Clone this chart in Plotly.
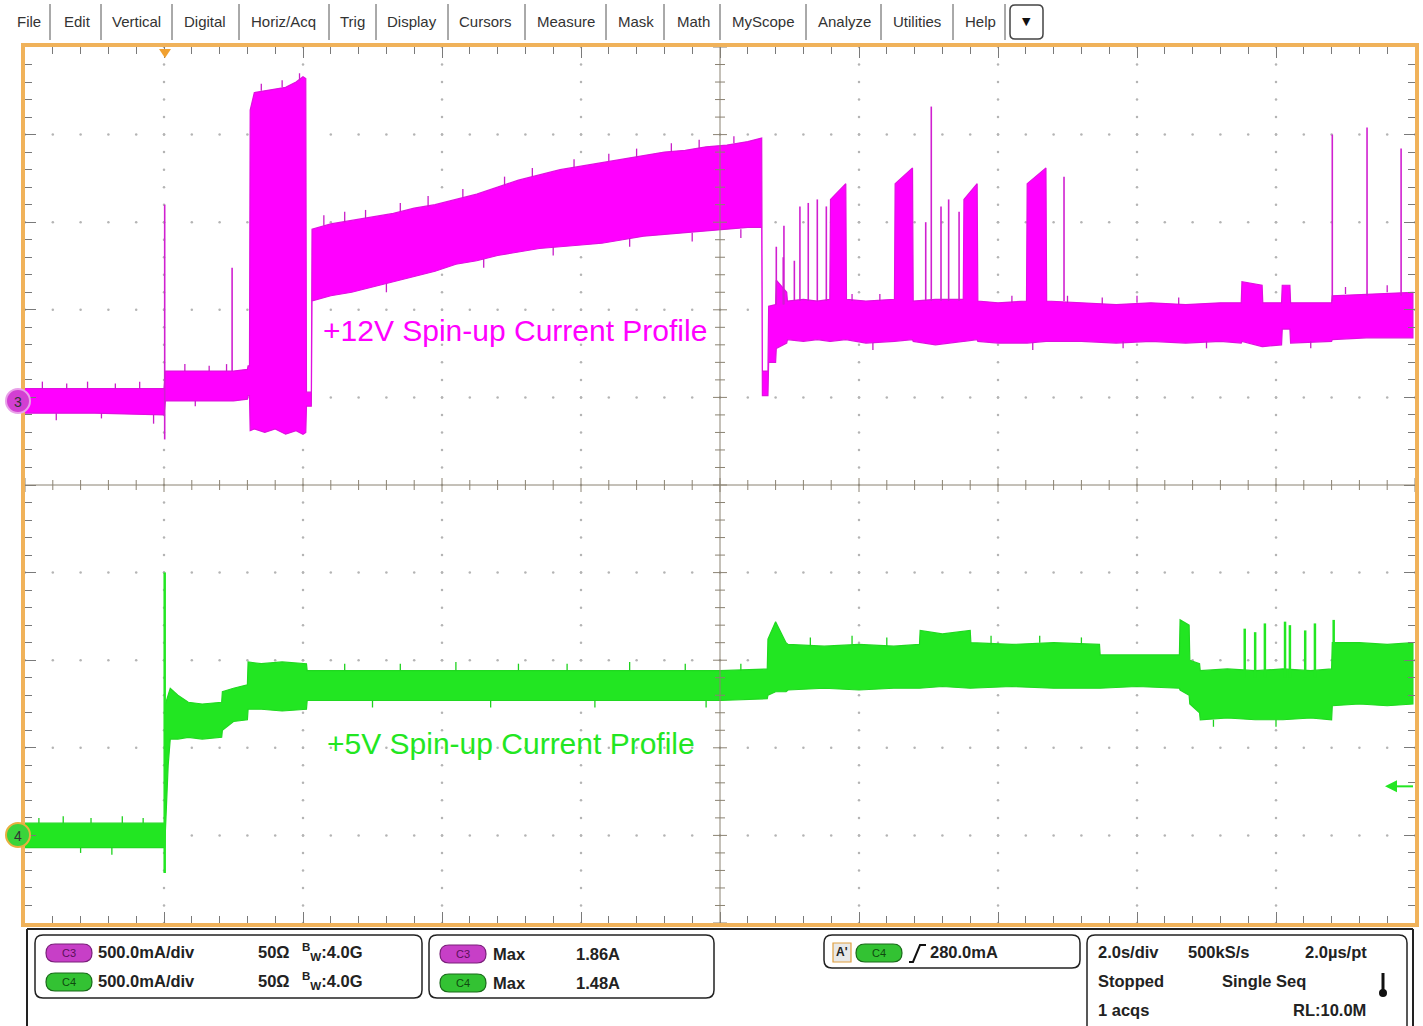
import plotly.graph_objects as go

# ---------------- DATA (time in s, current in A) ----------------
# Channel 3 (+12V) envelope: time, upper, lower
c3_t = [-2.00, -1.00, 0.00,
        0.02, 0.50, 1.00, 1.20, 1.21, 1.23,
        1.24, 1.30, 1.45, 1.60, 1.75, 1.90, 2.00, 2.04,
        2.05, 2.12,
        2.13, 2.40, 2.70, 3.00, 3.30, 3.60, 3.90, 4.20, 4.50, 4.80, 5.10, 5.40,
        5.70, 6.00, 6.30, 6.60, 6.90, 7.20, 7.50, 7.80, 8.10, 8.40, 8.60,
        8.61, 8.69, 8.70, 8.80, 8.81, 8.96, 8.97,
        9.20, 9.40, 9.58, 9.59, 9.81, 9.82, 10.10, 10.51, 10.52, 10.77, 10.78,
        11.10, 11.50, 11.51, 11.70, 11.71, 12.00, 12.41, 12.42, 12.69, 12.70,
        13.20, 13.70, 14.20, 14.70, 15.20, 15.50, 15.51, 15.80, 15.81, 16.08,
        16.09, 16.20, 16.21, 16.80, 16.81, 17.30, 17.97]
c3_hi = [0.07, 0.07, 0.07,
         0.17, 0.17, 0.17, 0.18, 0.20, 0.20,
         1.66, 1.76, 1.77, 1.78, 1.79, 1.82, 1.85, 1.84,
         0.05, 0.05,
         0.98, 1.01, 1.03, 1.05, 1.07, 1.10, 1.12, 1.15, 1.18, 1.22, 1.26, 1.29,
         1.32, 1.34, 1.36, 1.38, 1.40, 1.42, 1.43, 1.45, 1.46, 1.48, 1.50,
         0.17, 0.17, 0.54, 0.55, 0.69, 0.62, 0.57,
         0.58, 0.57, 0.58, 1.15, 1.24, 0.58, 0.57, 0.58, 1.24, 1.33, 0.57,
         0.58, 0.58, 1.15, 1.24, 0.57, 0.56, 0.57, 1.24, 1.33, 0.57,
         0.56, 0.55, 0.56, 0.55, 0.56, 0.56, 0.68, 0.66, 0.56, 0.56,
         0.66, 0.66, 0.56, 0.56, 0.60, 0.61, 0.62]
c3_lo = [-0.07, -0.07, -0.08,
         0.00, 0.00, 0.00, 0.01, 0.03, 0.03,
         -0.17, -0.16, -0.18, -0.16, -0.19, -0.17, -0.19, -0.18,
         -0.03, -0.03,
         0.57, 0.60, 0.62, 0.65, 0.68, 0.71, 0.74, 0.78, 0.80, 0.83, 0.85, 0.87,
         0.88, 0.89, 0.90, 0.92, 0.94, 0.95, 0.96, 0.97, 0.98, 0.99, 0.99,
         0.03, 0.03, 0.22, 0.22, 0.30, 0.33, 0.35,
         0.34, 0.35, 0.34, 0.34, 0.35, 0.35, 0.33, 0.34, 0.34, 0.35, 0.34,
         0.32, 0.34, 0.34, 0.35, 0.34, 0.33, 0.33, 0.33, 0.34, 0.34,
         0.34, 0.33, 0.34, 0.33, 0.34, 0.33, 0.34, 0.31, 0.31, 0.32,
         0.41, 0.41, 0.33, 0.34, 0.35, 0.36, 0.36]
c3_spike_t = [0.01, 0.98, 8.81, 8.91, 8.92, 9.07, 9.15, 9.27, 9.40, 9.53,
              10.96, 11.04, 11.18, 11.29, 11.44, 12.95, 16.81, 17.31, 17.80]
c3_spike_lo = [-0.22, 0.17, 0.55, 0.55, 0.55, 0.57, 0.57, 0.57, 0.57, 0.57,
               0.57, 0.57, 0.57, 0.57, 0.57, 0.57, 0.57, 0.60, 0.60]
c3_spike_hi = [1.12, 0.76, 0.88, 0.82, 1.00, 0.80, 1.11, 1.13, 1.15, 1.11,
               1.02, 1.68, 1.11, 1.15, 1.08, 1.28, 1.52, 1.56, 1.44]
# small noise teeth on the C3 envelope edges
c3_tooth_t = [-1.75, -1.40, -1.10, -0.70, -0.35, -1.55, -0.90, -0.15,
              0.30, 0.65, 0.90, 0.45,
              1.40, 1.70, 1.95,
              2.30, 2.60, 2.90, 3.40, 3.80, 4.30, 4.90, 5.30, 5.90, 6.40, 6.80, 7.30, 7.70, 8.20,
              3.20, 4.60, 5.60, 6.70, 7.60, 8.30,
              9.90, 10.30, 12.20, 13.00, 13.50, 14.00, 14.60, 17.00, 17.60,
              10.20, 12.50, 13.80, 15.00, 16.50]
c3_tooth_lo = [0.07, 0.07, 0.07, 0.07, 0.07, -0.07, -0.07, -0.08,
               0.17, 0.17, 0.17, 0.00,
               1.77, 1.79, 1.83,
               1.00, 1.02, 1.04, 1.08, 1.11, 1.16, 1.23, 1.28, 1.33, 1.37, 1.39, 1.42, 1.44, 1.47,
               0.67, 0.81, 0.88, 0.93, 0.96, 0.98,
               0.57, 0.57, 0.56, 0.56, 0.55, 0.56, 0.55, 0.61, 0.62,
               0.33, 0.33, 0.34, 0.34, 0.34]
c3_tooth_hi = [0.11, 0.10, 0.11, 0.10, 0.11, -0.11, -0.10, -0.13,
               0.21, 0.20, 0.21, -0.03,
               1.81, 1.83, 1.87,
               1.06, 1.08, 1.09, 1.13, 1.17, 1.21, 1.28, 1.33, 1.38, 1.41, 1.44, 1.47, 1.49, 1.51,
               0.62, 0.76, 0.83, 0.88, 0.91, 0.93,
               0.61, 0.61, 0.60, 0.60, 0.59, 0.60, 0.59, 0.65, 0.66,
               0.29, 0.29, 0.30, 0.30, 0.30]

# Channel 4 (+5V) envelope
c4_t = [-2.00, -1.00, 0.00, 0.01,
        0.02, 0.06, 0.09, 0.20, 0.35, 0.55, 0.83, 0.84, 1.00, 1.20,
        1.21, 1.40, 1.70, 2.05,
        2.06, 3.00, 4.00, 5.00, 6.00, 7.00, 8.00, 8.68,
        8.69, 8.80, 8.95, 8.98, 9.50, 10.00, 10.50, 10.87, 10.88, 11.20, 11.60, 11.61,
        12.20, 12.80, 13.46, 13.47, 14.00, 14.61, 14.62, 14.75, 14.76, 14.90,
        14.91, 15.30, 15.70, 16.10, 16.50, 16.80, 16.81, 17.20, 17.60, 17.97]
c4_hi = [0.07, 0.07, 0.07, 0.07,
         0.75, 0.80, 0.84, 0.80, 0.76, 0.75, 0.76, 0.82, 0.84, 0.86,
         0.99, 0.98, 0.99, 0.98,
         0.94, 0.94, 0.94, 0.94, 0.94, 0.94, 0.94, 0.95,
         1.12, 1.22, 1.10, 1.09, 1.08, 1.09, 1.08, 1.09, 1.17, 1.15, 1.17, 1.10,
         1.09, 1.10, 1.09, 1.03, 1.03, 1.03, 1.23, 1.20, 1.00, 0.98,
         0.94, 0.95, 0.94, 0.95, 0.94, 0.95, 1.10, 1.10, 1.09, 1.10]
c4_lo = [-0.07, -0.07, -0.07, -0.07,
         -0.05, 0.40, 0.55, 0.55, 0.56, 0.55, 0.56, 0.60, 0.65, 0.66,
         0.72, 0.72, 0.71, 0.72,
         0.77, 0.77, 0.77, 0.77, 0.77, 0.77, 0.77, 0.78,
         0.80, 0.82, 0.82, 0.83, 0.84, 0.83, 0.84, 0.84, 0.84, 0.85, 0.84, 0.84,
         0.85, 0.84, 0.84, 0.84, 0.85, 0.84, 0.83, 0.80, 0.75, 0.70,
         0.66, 0.67, 0.66, 0.66, 0.67, 0.66, 0.74, 0.75, 0.74, 0.75]
c4_spike_t = [0.01, 15.55, 15.70, 15.84, 16.13, 16.20, 16.42, 16.56, 16.83]
c4_spike_lo = [-0.215, 0.90, 0.90, 0.90, 0.90, 0.90, 0.90, 0.90, 1.00]
c4_spike_hi = [1.50, 1.18, 1.16, 1.21, 1.22, 1.20, 1.17, 1.21, 1.23]
c4_tooth_t = [-1.80, -1.45, -1.05, -0.60, -0.30, -1.20, -0.75,
              2.60, 3.40, 4.20, 5.10, 5.80, 6.70, 7.50, 8.30,
              9.30, 9.90, 10.40, 11.90, 12.60, 13.20,
              3.00, 4.70, 6.20, 7.80, 15.10, 16.00]
c4_tooth_lo = [0.07, 0.07, 0.07, 0.07, 0.07, -0.07, -0.07,
               0.94, 0.94, 0.94, 0.94, 0.94, 0.94, 0.94, 0.94,
               1.08, 1.09, 1.08, 1.09, 1.10, 1.09,
               0.77, 0.77, 0.77, 0.77, 0.66, 0.66]
c4_tooth_hi = [0.10, 0.11, 0.10, 0.11, 0.10, -0.10, -0.11,
               0.98, 0.98, 0.99, 0.98, 0.98, 0.99, 0.98, 0.98,
               1.13, 1.14, 1.13, 1.14, 1.14, 1.13,
               0.73, 0.73, 0.73, 0.73, 0.62, 0.62]

# Scope settings
VSCALE = 0.5          # A/div for both channels
C3_POS = 5.96         # ground position, divisions
C4_POS = 1.0
T_MIN, T_MAX = -2.0, 18.0   # 2.0 s/div, 10 divisions
TRIG_LEVEL = 0.28     # A on C4

# ---------------- LAYOUT HELPERS ----------------
W, H = 1423, 1026
PX0, PX1, PY0, PY1 = 25, 1415, 47, 923
MAG = '#FF00FF'
GRN = '#22E622'
ORANGE = '#F0B25A'
FONT = 'Liberation Sans, Arial, sans-serif'


def X(px):
    return px / W


def Y(py):
    return 1 - py / H


def rrect(x0, y0, x1, y1, r):
    return (f"M {X(x0 + r)},{Y(y0)} L {X(x1 - r)},{Y(y0)} Q {X(x1)},{Y(y0)} {X(x1)},{Y(y0 + r)} "
            f"L {X(x1)},{Y(y1 - r)} Q {X(x1)},{Y(y1)} {X(x1 - r)},{Y(y1)} "
            f"L {X(x0 + r)},{Y(y1)} Q {X(x0)},{Y(y1)} {X(x0)},{Y(y1 - r)} "
            f"L {X(x0)},{Y(y0 + r)} Q {X(x0)},{Y(y0)} {X(x0 + r)},{Y(y0)} Z")


fig = go.Figure()

# grid dots
gx, gy = [], []
for k in range(1, 10):
    if k == 5:
        continue
    for m in range(51):
        gx.append(T_MIN + 2 * k)
        gy.append(m * 0.2)
        gx.append(T_MIN + m * 0.4)
        gy.append(k)
fig.add_trace(go.Scatter(x=gx, y=gy, mode='markers', hoverinfo='skip',
                         marker=dict(size=2.5, color='#b4b4b4', line=dict(width=0))))


def band(t, hi, lo, pos, color, edge):
    xs = list(t) + list(reversed(t))
    ys = [pos + v / VSCALE for v in hi] + [pos + v / VSCALE for v in reversed(lo)]
    return go.Scatter(x=xs, y=ys, fill='toself', fillcolor=color, mode='lines',
                      line=dict(color=edge, width=1.2), hoverinfo='skip')


def spikes(t, lo, hi, pos, color, width):
    xs, ys = [], []
    for a, b, c in zip(t, lo, hi):
        xs += [a, a, None]
        ys += [pos + b / VSCALE, pos + c / VSCALE, None]
    return go.Scatter(x=xs, y=ys, mode='lines', line=dict(color=color, width=width),
                      hoverinfo='skip')


fig.add_trace(band(c3_t, c3_hi, c3_lo, C3_POS, MAG, '#E010E0'))
fig.add_trace(spikes(c3_tooth_t, c3_tooth_lo, c3_tooth_hi, C3_POS, '#C81EC8', 1.3))
fig.add_trace(spikes(c3_spike_t, c3_spike_lo, c3_spike_hi, C3_POS, '#D020D0', 1.6))
fig.add_trace(band(c4_t, c4_hi, c4_lo, C4_POS, GRN, '#20D820'))
fig.add_trace(spikes(c4_tooth_t, c4_tooth_lo, c4_tooth_hi, C4_POS, '#1ED21E', 1.3))
fig.add_trace(spikes(c4_spike_t, c4_spike_lo, c4_spike_hi, C4_POS, GRN, 2.5))

shapes = []
annos = []


def label(px, py, s, size=14, color='#333', xa='center', family=FONT):
    annos.append(dict(x=X(px), y=Y(py), xref='paper', yref='paper', xanchor=xa, yanchor='middle',
                      showarrow=False, text=s, font=dict(family=family, size=size, color=color)))


TC = T_MIN + 10.0  # center time
# crosshair
shapes.append(dict(type='line', xref='x', yref='y', x0=TC, x1=TC, y0=0, y1=10,
                   line=dict(color='#8a8272', width=1), layer='above'))
shapes.append(dict(type='line', xref='x', yref='y', x0=T_MIN, x1=T_MAX, y0=5, y1=5,
                   line=dict(color='#8a8272', width=1), layer='above'))
for m in range(51):
    L = 5 if m % 5 else 7
    shapes.append(dict(type='line', xref='x', yref='y', xsizemode='pixel', xanchor=TC,
                       x0=-L, x1=L, y0=m * 0.2, y1=m * 0.2,
                       line=dict(color='#8a8272', width=1), layer='above'))
    shapes.append(dict(type='line', xref='x', yref='y', ysizemode='pixel', yanchor=5,
                       y0=-L, y1=L, x0=T_MIN + m * 0.4, x1=T_MIN + m * 0.4,
                       line=dict(color='#8a8272', width=1), layer='above'))

# text labels on traces
label(515, 330, '+12V Spin-up Current Profile', size=30, color=MAG)
label(511, 743, '+5V Spin-up Current Profile', size=30, color=GRN)

# channel ground markers
for py, lab, fill, ring in [(401, '3', '#D23FD2', '#E9A0E9'),
                            (835, '4', '#3BD43B', '#E8B040')]:
    shapes.append(dict(type='circle', xref='paper', yref='paper', xsizemode='pixel', ysizemode='pixel',
                       xanchor=X(18), yanchor=Y(py), x0=-12, x1=12, y0=-12, y1=12,
                       fillcolor=fill, line=dict(color=ring, width=2), layer='above'))
    label(18, py + 1, lab, size=14, color='#333')

# trigger position marker (top) and trigger level arrow (right)
shapes.append(dict(type='path', xref='paper', yref='paper',
                   path=f"M {X(159)},{Y(49)} L {X(171)},{Y(49)} L {X(165)},{Y(58)} Z",
                   fillcolor='#F0A030', line=dict(width=0), layer='above'))
trig_py = PY1 - (C4_POS + TRIG_LEVEL / VSCALE) * (PY1 - PY0) / 10.0
shapes.append(dict(type='line', xref='paper', yref='paper', x0=X(1394), x1=X(1413),
                   y0=Y(trig_py), y1=Y(trig_py), line=dict(color=GRN, width=2), layer='above'))
shapes.append(dict(type='path', xref='paper', yref='paper',
                   path=f"M {X(1385)},{Y(trig_py)} L {X(1397)},{Y(trig_py - 6)} L {X(1397)},{Y(trig_py + 6)} Z",
                   fillcolor=GRN, line=dict(width=0), layer='above'))

# menu bar
menu = [(15, 'File'), (62, 'Edit'), (110, 'Vertical'), (182, 'Digital'), (249, 'Horiz/Acq'),
        (338, 'Trig'), (385, 'Display'), (457, 'Cursors'), (535, 'Measure'), (616, 'Mask'),
        (675, 'Math'), (730, 'MyScope'), (816, 'Analyze'), (891, 'Utilities'), (963, 'Help')]
for px, t in menu:
    label(px, 21, t, size=15, color='#333', xa='left')
for px in [50, 101, 172, 239, 329, 376, 448, 525, 606, 664, 720, 806, 881, 953, 1005]:
    shapes.append(dict(type='line', xref='paper', yref='paper', x0=X(px), x1=X(px), y0=Y(4), y1=Y(40),
                       line=dict(color='#555', width=1)))
shapes.append(dict(type='path', xref='paper', yref='paper', path=rrect(1010, 5, 1043, 39, 5),
                   line=dict(color='#444', width=1.5), fillcolor='white'))
label(1026.5, 22, '▼', size=11, color='#111', family='DejaVu Sans')

# bottom status area
shapes.append(dict(type='line', xref='paper', yref='paper', x0=X(27), x1=X(1413), y0=Y(929), y1=Y(929),
                   line=dict(color='#222', width=2)))
for px in [27, 1413]:
    shapes.append(dict(type='line', xref='paper', yref='paper', x0=X(px), x1=X(px), y0=Y(929), y1=Y(1026),
                       line=dict(color='#222', width=2)))
for x0, y0, x1, y1 in [(35, 935, 422, 998), (429, 935, 714, 998), (824, 935, 1080, 968),
                       (1087, 935, 1407, 1060)]:
    shapes.append(dict(type='path', xref='paper', yref='paper', path=rrect(x0, y0, x1, y1, 8),
                       line=dict(color='#222', width=1.5), fillcolor='white'))


def pill(x0, yc, lab, fill, edge, tc):
    shapes.append(dict(type='path', xref='paper', yref='paper', path=rrect(x0, yc - 9, x0 + 46, yc + 9, 9),
                       line=dict(color=edge, width=1.2), fillcolor=fill))
    label(x0 + 23, yc, lab, size=11, color=tc)


def txt(px, py, s, size=16.5):
    label(px - 2, py, f'<b>{s}</b>', size=size, color='#222', xa='left')


pill(46, 953, 'C3', '#C73FC7', '#7a207a', '#5a105a')
pill(46, 982, 'C4', '#33C233', '#1a6a1a', '#0f4a0f')
txt(98, 952, '500.0mA/div')
txt(98, 981, '500.0mA/div')
for py in [952, 981]:
    txt(258, py, '50Ω')
    txt(302, py, '<sup>B</sup><sub>W</sub>:4.0G')
pill(440, 954, 'C3', '#C73FC7', '#7a207a', '#5a105a')
pill(440, 983, 'C4', '#33C233', '#1a6a1a', '#0f4a0f')
txt(493, 954, 'Max')
txt(493, 983, 'Max')
txt(576, 954, '1.86A')
txt(576, 983, '1.48A')
shapes.append(dict(type='rect', xref='paper', yref='paper', x0=X(833), x1=X(851), y0=Y(943), y1=Y(962),
                   line=dict(color='#E0A040', width=1.2), fillcolor='#E8E8E8'))
label(842, 952, "<b>A'</b>", size=12, color='#222')
pill(856, 953, 'C4', '#33C233', '#1a6a1a', '#0f4a0f')
shapes.append(dict(type='path', xref='paper', yref='paper',
                   path=f"M {X(909)},{Y(962)} L {X(913)},{Y(962)} L {X(920)},{Y(945)} L {X(926)},{Y(945)}",
                   line=dict(color='#111', width=2)))
txt(930, 952, '280.0mA')
txt(1098, 952, '2.0s/div')
txt(1188, 952, '500kS/s')
txt(1305, 952, '2.0µs/pt')
txt(1098, 981, 'Stopped')
txt(1222, 981, 'Single Seq')
txt(1098, 1010, '1 acqs')
txt(1293, 1010, 'RL:10.0M')
shapes.append(dict(type='line', xref='paper', yref='paper', x0=X(1383), x1=X(1383), y0=Y(973), y1=Y(991),
                   line=dict(color='#111', width=3)))
shapes.append(dict(type='circle', xref='paper', yref='paper', x0=X(1379), x1=X(1387), y0=Y(989), y1=Y(997),
                   fillcolor='#111', line=dict(width=0)))

axis_common = dict(showgrid=False, zeroline=False, showticklabels=False, ticks='inside',
                   tickcolor='#7a7a7a', tickwidth=1, showline=True, linecolor=ORANGE, linewidth=4,
                   mirror='ticks', fixedrange=True)
fig.update_layout(
    width=W, height=H, margin=dict(l=0, r=0, t=0, b=0), showlegend=False,
    paper_bgcolor='white', plot_bgcolor='white',
    xaxis=dict(domain=[X(PX0), X(PX1)], range=[T_MIN, T_MAX], tick0=T_MIN, dtick=2, ticklen=11,
               minor=dict(ticks='inside', tick0=T_MIN, dtick=0.4, ticklen=7, tickcolor='#7a7a7a'),
               **axis_common),
    yaxis=dict(domain=[Y(PY1), Y(PY0)], range=[0, 10], tick0=0, dtick=1, ticklen=11,
               minor=dict(ticks='inside', tick0=0, dtick=0.2, ticklen=7, tickcolor='#7a7a7a'),
               **axis_common),
    shapes=shapes, annotations=annos,
)

fig.write_html("out.html", config={'displayModeBar': False},
               post_script="document.body.style.margin='0px';")
